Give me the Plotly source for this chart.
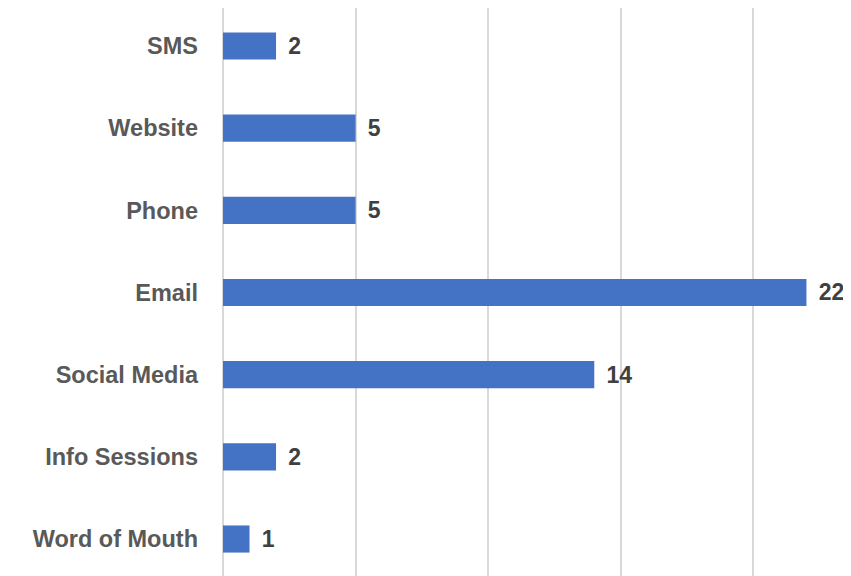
import plotly.graph_objects as go

BAR_COLOR = "#4472C4"
GRID_COLOR = "#d9d9d9"
LABEL_COLOR = "#595959"
VALUE_COLOR = "#404040"

# bottom to top, as drawn
channels = ["Word of Mouth", "Info Sessions", "Social Media", "Email", "Phone", "Website", "SMS"]
counts = [1, 2, 14, 22, 5, 5, 2]

fig = go.Figure(
    go.Bar(
        x=counts, y=channels, orientation="h",
        marker=dict(color=BAR_COLOR, line_width=0),
        text=counts, texttemplate="\u2009\u2009%{text}", textposition="outside",
        textfont=dict(family="Liberation Sans", size=23, color=VALUE_COLOR, weight="bold"),
        cliponaxis=False, hoverinfo="x+y",
    )
)

# page body keeps an 8px margin, so the figure is sized to sit inside it
fig.update_layout(
    width=843, height=568,
    margin=dict(l=215, r=0, t=0, b=0),
    paper_bgcolor="white", plot_bgcolor="white",
    bargap=0.67, showlegend=False,
)
fig.update_xaxes(
    range=[0, 23.68], dtick=5, showgrid=True, gridcolor=GRID_COLOR, gridwidth=1.5,
    showticklabels=False, zeroline=True, zerolinecolor=GRID_COLOR, zerolinewidth=1.5,
    fixedrange=True,
)
fig.update_yaxes(
    range=[-0.45, 6.462], showgrid=False, ticks="", ticklabelstandoff=24,
    tickfont=dict(family="Liberation Sans", size=23.5, color=LABEL_COLOR, weight="bold"),
)

fig.write_html("out.html")
